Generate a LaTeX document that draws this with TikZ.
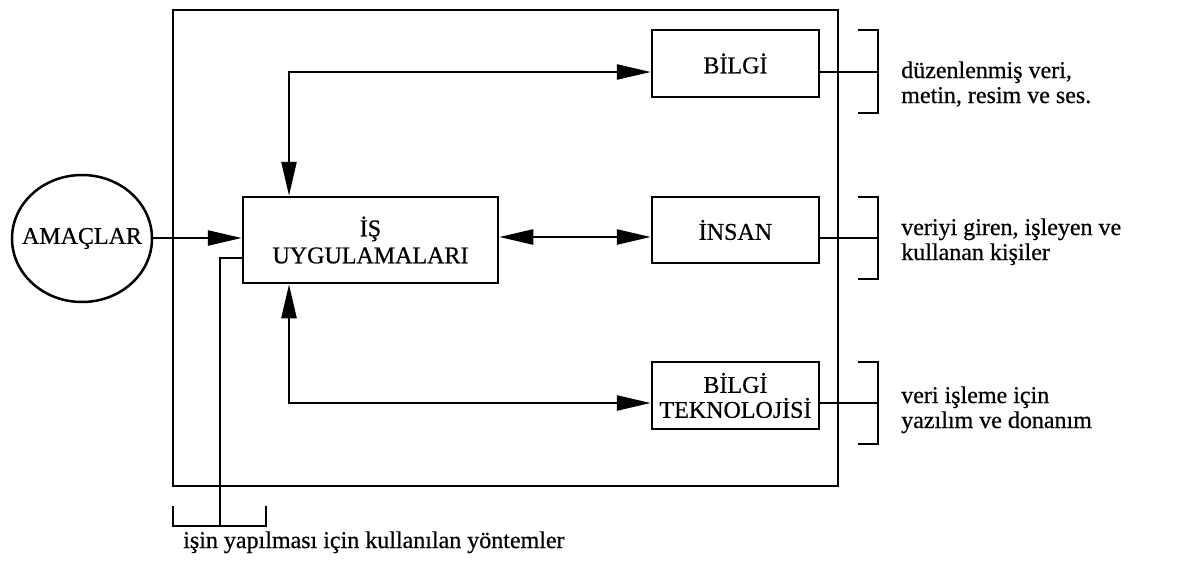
\documentclass[tikz,border=0pt]{standalone}
\usepackage{fontspec}
\setmainfont{Liberation Serif}[FakeBold=0.6]
\usetikzlibrary{arrows.meta,shapes.geometric}
\begin{document}
\begin{tikzpicture}[x=1pt,y=-1pt, line width=2.5pt,
  box/.style={draw, minimum width=167pt, inner sep=0pt, align=center, font=\fontsize{24}{25}\selectfont},
  ell/.style={draw, ellipse, inner sep=0pt, font=\fontsize{24}{28}\selectfont},
  tip/.tip={Triangle[length=34pt,width=15pt]},
  onearr/.style={-tip},
  twoarr/.style={tip-tip},
  lbl/.style={anchor=base west, align=left, inner sep=0pt, font=\fontsize{24}{25}\selectfont}
]
\useasboundingbox (0,0) rectangle (1188,565);
% outer frame
\node[draw, minimum width=665pt, minimum height=476pt, inner sep=0pt] (outer) at (505.5,248) {};
% nodes
\node[ell, minimum width=140pt, minimum height=127pt] (am) at (82,238.5) {\makebox[0pt]{AMAÇLAR}};
\node[box, minimum width=255pt, minimum height=86pt, font=\fontsize{24}{27}\selectfont] (is) at (370.5,240) {İŞ\\UYGULAMALARI};
\node[box, minimum height=67pt] (bilgi) at (735.5,63.5) {BİLGİ};
\node[box, minimum height=66pt] (insan) at (735.5,230) {İNSAN};
\node[box, minimum height=67pt] (bt) at (735.5,395.5) {BİLGİ\\TEKNOLOJİSİ};
% helper coordinates
\coordinate (k1) at (289,72);
\coordinate (k2) at (289,403);
\coordinate (kb) at (220,526);
\coordinate (r1) at (878,72);
\coordinate (r2) at (878,238);
\coordinate (r3) at (878,403);
% connectors
\draw[onearr] (am.east |- 0,238) -- (is.west |- 0,238);
\draw[twoarr] (is.north -| k1) |- (bilgi.west |- k1);
\draw[twoarr] (is.south -| k2) |- (bt.west |- k2);
\draw[twoarr] (is.east |- 0,237) -- (insan.west |- 0,237);
\draw (is.west |- 0,258) -| (kb);
\draw (bilgi.east |- r1) -- (r1);
\draw (insan.east |- r2) -- (r2);
\draw (bt.east |- r3) -- (r3);
% brackets
\draw (858,30) -| (878,113) -- (858,113);
\draw (858,197) -| (878,279) -- (858,279);
\draw (858,362) -| (878,444) -- (858,444);
\draw (173,506) |- (266,526) -- (266,506);
% labels
\node[lbl] (t1) at (900,103) {düzenlenmiş veri,\\metin, resim ve ses.};
\node[lbl] (t2) at (900,260) {veriyi giren, işleyen ve\\kullanan kişiler};
\node[lbl] (t3) at (900,428) {veri işleme için\\yazılım ve donanım};
\node[lbl] (t4) at (182,548) {işin yapılması için kullanılan yöntemler};
\end{tikzpicture}
\end{document}
